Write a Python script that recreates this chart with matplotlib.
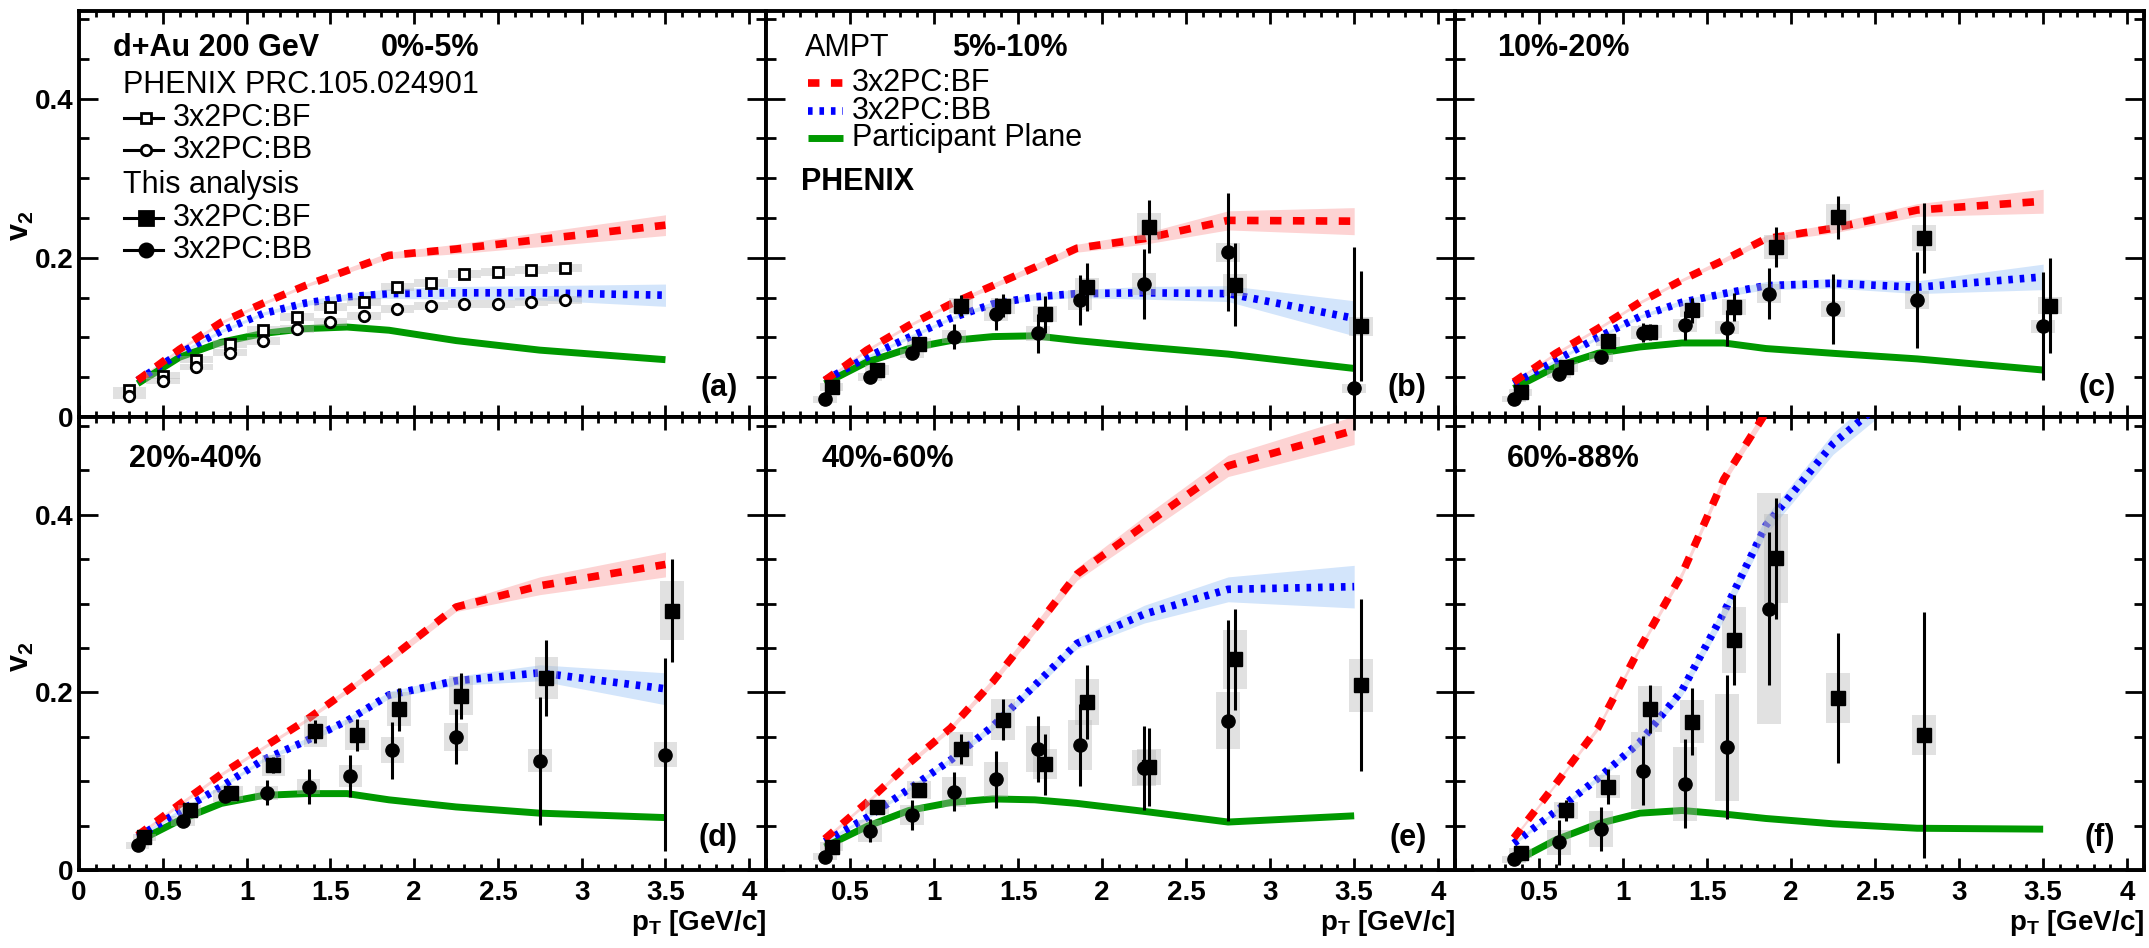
import numpy as np
import matplotlib
matplotlib.use('Agg')
import matplotlib.pyplot as plt
from matplotlib.ticker import MultipleLocator, FuncFormatter
from matplotlib.patches import Rectangle

plt.rcParams['font.family'] = ['Liberation Sans', 'DejaVu Sans']
plt.rcParams['mathtext.fontset'] = 'custom'
plt.rcParams['mathtext.rm'] = 'Liberation Sans'
plt.rcParams['mathtext.bf'] = 'Liberation Sans:bold'
plt.rcParams['mathtext.it'] = 'Liberation Sans:italic'

# ---------------- AMPT model curves (common pT grid) ----------------
pt_model = [0.35, 0.6, 0.85, 1.1, 1.35, 1.6, 1.85, 2.25, 2.75, 3.5]

bf_a = [0.046, 0.085, 0.119, 0.143, 0.165, 0.184, 0.203, 0.211, 0.223, 0.241]
bb_a = [0.046, 0.080, 0.108, 0.130, 0.143, 0.151, 0.155, 0.156, 0.156, 0.153]
pp_a = [0.042, 0.075, 0.094, 0.105, 0.111, 0.113, 0.109, 0.096, 0.084, 0.072]
bf_band_a = [0.002, 0.002, 0.002, 0.002, 0.002, 0.003, 0.004, 0.006, 0.009, 0.013]
bb_band_a = [0.002, 0.002, 0.002, 0.002, 0.003, 0.004, 0.006, 0.008, 0.009, 0.014]

bf_b = [0.046, 0.084, 0.115, 0.142, 0.165, 0.188, 0.212, 0.224, 0.247, 0.246]
bb_b = [0.046, 0.075, 0.100, 0.124, 0.142, 0.151, 0.155, 0.156, 0.155, 0.124]
pp_b = [0.042, 0.069, 0.086, 0.096, 0.101, 0.102, 0.096, 0.088, 0.079, 0.061]
bf_band_b = [0.002, 0.002, 0.002, 0.002, 0.003, 0.004, 0.005, 0.007, 0.012, 0.017]
bb_band_b = [0.002, 0.002, 0.002, 0.002, 0.003, 0.004, 0.005, 0.008, 0.010, 0.022]

bf_c = [0.044, 0.080, 0.111, 0.144, 0.172, 0.197, 0.224, 0.237, 0.260, 0.271]
bb_c = [0.042, 0.071, 0.100, 0.126, 0.144, 0.155, 0.165, 0.168, 0.163, 0.176]
pp_c = [0.036, 0.063, 0.080, 0.088, 0.093, 0.093, 0.086, 0.080, 0.073, 0.059]
bf_band_c = [0.002, 0.002, 0.002, 0.002, 0.002, 0.003, 0.004, 0.006, 0.008, 0.015]
bb_band_c = [0.002, 0.002, 0.002, 0.002, 0.003, 0.004, 0.005, 0.006, 0.008, 0.016]

bf_d = [0.039, 0.074, 0.108, 0.138, 0.168, 0.202, 0.237, 0.296, 0.320, 0.344]
bb_d = [0.037, 0.066, 0.094, 0.124, 0.145, 0.168, 0.197, 0.213, 0.222, 0.204]
pp_d = [0.032, 0.056, 0.075, 0.084, 0.086, 0.086, 0.079, 0.071, 0.064, 0.059]
bf_band_d = [0.002, 0.002, 0.002, 0.002, 0.002, 0.003, 0.004, 0.005, 0.010, 0.014]
bb_band_d = [0.002, 0.002, 0.002, 0.002, 0.003, 0.003, 0.004, 0.005, 0.009, 0.018]

bf_e = [0.035, 0.076, 0.120, 0.160, 0.212, 0.272, 0.333, 0.388, 0.455, 0.495]
bb_e = [0.032, 0.059, 0.091, 0.124, 0.162, 0.208, 0.255, 0.288, 0.316, 0.319]
pp_e = [0.026, 0.049, 0.067, 0.076, 0.080, 0.079, 0.075, 0.066, 0.054, 0.061]
bf_band_e = [0.002, 0.002, 0.003, 0.003, 0.004, 0.005, 0.007, 0.010, 0.012, 0.016]
bb_band_e = [0.002, 0.002, 0.002, 0.003, 0.004, 0.005, 0.006, 0.010, 0.014, 0.024]

bf_f = [0.036, 0.097, 0.160, 0.250, 0.333, 0.440, 0.515]
bb_f = [0.030, 0.066, 0.103, 0.144, 0.202, 0.290, 0.388, 0.480, 0.560]
pp_f = [0.009, 0.034, 0.052, 0.064, 0.067, 0.063, 0.058, 0.052, 0.047, 0.046]
bf_band_f = [0.002, 0.002, 0.003, 0.003, 0.004, 0.005, 0.006]
bb_band_f = [0.002, 0.002, 0.003, 0.004, 0.006, 0.008, 0.010, 0.012, 0.014]

# ---------------- PHENIX PRC.105.024901 (0-5%) ----------------
pt_phx = [0.3, 0.5, 0.7, 0.9, 1.1, 1.3, 1.5, 1.7, 1.9, 2.1, 2.3, 2.5, 2.7, 2.9]
v2_phx_bf = [0.034, 0.052, 0.072, 0.092, 0.109, 0.126, 0.138, 0.145, 0.163, 0.168, 0.180, 0.182, 0.185, 0.187]
v2_phx_bb = [0.026, 0.045, 0.063, 0.081, 0.095, 0.110, 0.119, 0.127, 0.136, 0.140, 0.142, 0.142, 0.144, 0.147]
sys_phx = [0.004, 0.004, 0.004, 0.005, 0.005, 0.005, 0.005, 0.005, 0.005, 0.005, 0.005, 0.005, 0.005, 0.005]

# ---------------- This analysis ----------------
pt_bb = [0.35, 0.62, 0.87, 1.12, 1.37, 1.62, 1.87, 2.25, 2.75, 3.5]
pt_bf = [0.39, 0.66, 0.91, 1.16, 1.41, 1.66, 1.91, 2.28, 2.79, 3.54]

v2_bf_b = [0.038, 0.059, 0.092, 0.140, 0.140, 0.129, 0.163, 0.239, 0.166, 0.114]
err_bf_b = [0.004, 0.005, 0.007, 0.013, 0.015, 0.023, 0.030, 0.033, 0.052, 0.069]
sys_bf_b = [0.005, 0.006, 0.007, 0.009, 0.010, 0.010, 0.012, 0.017, 0.014, 0.012]
v2_bb_b = [0.022, 0.050, 0.080, 0.101, 0.129, 0.105, 0.147, 0.167, 0.207, 0.036]
err_bb_b = [0.004, 0.005, 0.007, 0.016, 0.020, 0.025, 0.032, 0.044, 0.074, 0.177]
sys_bb_b = [0.004, 0.005, 0.006, 0.008, 0.009, 0.009, 0.012, 0.014, 0.012, 0.006]

v2_bf_c = [0.031, 0.063, 0.095, 0.107, 0.134, 0.138, 0.214, 0.251, 0.225, 0.140]
err_bf_c = [0.003, 0.005, 0.006, 0.010, 0.016, 0.018, 0.025, 0.027, 0.044, 0.060]
sys_bf_c = [0.004, 0.006, 0.006, 0.008, 0.009, 0.010, 0.015, 0.016, 0.016, 0.011]
v2_bb_c = [0.023, 0.054, 0.075, 0.106, 0.115, 0.112, 0.155, 0.136, 0.147, 0.114]
err_bb_c = [0.003, 0.005, 0.006, 0.012, 0.018, 0.023, 0.032, 0.044, 0.060, 0.068]
sys_bb_c = [0.004, 0.005, 0.006, 0.008, 0.008, 0.008, 0.012, 0.010, 0.011, 0.008]

v2_bf_d = [0.037, 0.067, 0.087, 0.118, 0.156, 0.152, 0.181, 0.196, 0.216, 0.292]
err_bf_d = [0.004, 0.005, 0.006, 0.009, 0.013, 0.018, 0.024, 0.026, 0.043, 0.058]
sys_bf_d = [0.004, 0.006, 0.008, 0.012, 0.017, 0.017, 0.019, 0.022, 0.024, 0.033]
v2_bb_d = [0.028, 0.055, 0.083, 0.087, 0.094, 0.106, 0.135, 0.150, 0.123, 0.130]
err_bb_d = [0.003, 0.005, 0.006, 0.014, 0.020, 0.024, 0.032, 0.031, 0.072, 0.109]
sys_bb_d = [0.004, 0.006, 0.007, 0.008, 0.008, 0.012, 0.015, 0.016, 0.013, 0.014]

v2_bf_e = [0.026, 0.071, 0.090, 0.136, 0.169, 0.119, 0.189, 0.116, 0.237, 0.208]
err_bf_e = [0.004, 0.006, 0.008, 0.017, 0.023, 0.034, 0.042, 0.044, 0.057, 0.097]
sys_bf_e = [0.005, 0.008, 0.010, 0.019, 0.023, 0.017, 0.026, 0.020, 0.033, 0.030]
v2_bb_e = [0.015, 0.044, 0.062, 0.088, 0.102, 0.136, 0.141, 0.115, 0.168]
err_bb_e = [0.004, 0.013, 0.017, 0.022, 0.032, 0.037, 0.046, 0.047, 0.113]
sys_bb_e = [0.004, 0.012, 0.011, 0.017, 0.020, 0.026, 0.028, 0.020, 0.032]

v2_bf_f = [0.019, 0.067, 0.094, 0.181, 0.167, 0.259, 0.351, 0.194, 0.152]
err_bf_f = [0.004, 0.012, 0.020, 0.027, 0.038, 0.051, 0.068, 0.073, 0.138]
sys_bf_f = [0.006, 0.010, 0.013, 0.026, 0.024, 0.037, 0.050, 0.028, 0.022]
v2_bb_f = [0.012, 0.031, 0.046, 0.112, 0.097, 0.138, 0.294]
err_bb_f = [0.004, 0.025, 0.025, 0.039, 0.050, 0.081, 0.086]
sys_bb_f = [0.004, 0.014, 0.020, 0.043, 0.042, 0.060, 0.130]

centralities = ['0%-5%', '5%-10%', '10%-20%', '20%-40%', '40%-60%', '60%-88%']
panel_tags = ['(a)', '(b)', '(c)', '(d)', '(e)', '(f)']

RED, BLUE, GREEN = '#ff0000', '#0000ff', '#009900'
RED_BAND, BLUE_BAND = '#fdd3d3', '#d3e5fb'
FS = 22

fig = plt.figure(figsize=(21.49, 9.48), dpi=100)
W, H = 2149.0, 948.0
col_x = [79, 766, 1455]
col_w = [687, 689, 689]
rows = [(11, 417), (417, 870)]   # top/bottom pixel of each row's frame

axes = []
for r, (top, bot) in enumerate(rows):
    for c in range(3):
        ax = fig.add_axes([col_x[c] / W, 1 - bot / H, col_w[c] / W, (bot - top) / H])
        axes.append(ax)


def model(ax, n_bf, bf, bf_band, bb, bb_band, pp):
    x = np.array(pt_model)
    bf, bf_band = np.array(bf), np.array(bf_band)
    bb, bb_band = np.array(bb), np.array(bb_band)
    ax.fill_between(x[:len(bf)], bf - bf_band, bf + bf_band, color=RED_BAND, lw=0, zorder=1)
    ax.fill_between(x[:len(bb)], bb - bb_band, bb + bb_band, color=BLUE_BAND, lw=0, zorder=1)
    ax.plot(x[:len(pp)], pp, color=GREEN, lw=5, solid_capstyle='butt', zorder=2)
    ax.plot(x[:len(bb)], bb, color=BLUE, lw=5.5, dashes=(0.6, 0.9), dash_capstyle='butt', zorder=3)
    ax.plot(x[:len(bf)], bf, color=RED, lw=5.5, dashes=(1.5, 1.5), dash_capstyle='butt', zorder=3)


def points(ax, px, v2, err, sys, marker, half_w=0.07):
    px = np.array(px[:len(v2)])
    for xi, yi, si in zip(px, v2, sys):
        ax.add_patch(Rectangle((xi - half_w, yi - si), 2 * half_w, 2 * si,
                               facecolor='#b4b4b4', alpha=0.4, lw=0, zorder=4))
    ax.errorbar(px, v2, yerr=err, fmt='none', ecolor='black', elinewidth=2.2, capsize=0, zorder=5)
    ax.plot(px, v2, ls='none', marker=marker, color='black', ms=9.5, zorder=6)


# panel (a)
ax = axes[0]
model(ax, 10, bf_a, bf_band_a, bb_a, bb_band_a, pp_a)
for xi, yb, yc, si in zip(pt_phx, v2_phx_bf, v2_phx_bb, sys_phx):
    ax.add_patch(Rectangle((xi - 0.1, yb - si), 0.2, 2 * si, facecolor='#b4b4b4', alpha=0.4, lw=0, zorder=4))
    ax.add_patch(Rectangle((xi - 0.1, yc - si), 0.2, 2 * si, facecolor='#b4b4b4', alpha=0.4, lw=0, zorder=4))
ax.plot(pt_phx, v2_phx_bf, ls='none', marker='s', ms=7.5, mfc='white', mec='black', mew=2, zorder=6)
ax.plot(pt_phx, v2_phx_bb, ls='none', marker='o', ms=7.5, mfc='white', mec='black', mew=2, zorder=6)

# panels (b)-(f)
model(axes[1], 10, bf_b, bf_band_b, bb_b, bb_band_b, pp_b)
points(axes[1], pt_bf, v2_bf_b, err_bf_b, sys_bf_b, 's')
points(axes[1], pt_bb, v2_bb_b, err_bb_b, sys_bb_b, 'o')
model(axes[2], 10, bf_c, bf_band_c, bb_c, bb_band_c, pp_c)
points(axes[2], pt_bf, v2_bf_c, err_bf_c, sys_bf_c, 's')
points(axes[2], pt_bb, v2_bb_c, err_bb_c, sys_bb_c, 'o')
model(axes[3], 10, bf_d, bf_band_d, bb_d, bb_band_d, pp_d)
points(axes[3], pt_bf, v2_bf_d, err_bf_d, sys_bf_d, 's')
points(axes[3], pt_bb, v2_bb_d, err_bb_d, sys_bb_d, 'o')
model(axes[4], 10, bf_e, bf_band_e, bb_e, bb_band_e, pp_e)
points(axes[4], pt_bf, v2_bf_e, err_bf_e, sys_bf_e, 's')
points(axes[4], pt_bb, v2_bb_e, err_bb_e, sys_bb_e, 'o')
model(axes[5], 10, bf_f, bf_band_f, bb_f, bb_band_f, pp_f)
points(axes[5], pt_bf, v2_bf_f, err_bf_f, sys_bf_f, 's')
points(axes[5], pt_bb, v2_bb_f, err_bb_f, sys_bb_f, 'o')

# axes styling (ROOT-like frames)
for i, ax in enumerate(axes):
    ax.set_xlim(0, 4.1)
    ax.set_ylim(0, 0.51)
    for s in ax.spines.values():
        s.set_linewidth(2.8)
    ax.xaxis.set_major_locator(MultipleLocator(0.5))
    ax.xaxis.set_minor_locator(MultipleLocator(0.1))
    ax.yaxis.set_major_locator(MultipleLocator(0.2))
    ax.yaxis.set_minor_locator(MultipleLocator(0.05))
    ax.tick_params(axis='x', which='major', direction='in', length=9, width=2, top=True, bottom=True, pad=7)
    ax.tick_params(axis='x', which='minor', direction='in', length=4.5, width=2, top=True, bottom=True)
    ax.tick_params(axis='y', which='major', direction='in', length=14, width=2, left=True, right=True, pad=4)
    ax.tick_params(axis='y', which='minor', direction='in', length=7, width=2, left=True, right=True)
    for lab in ax.get_xticklabels() + ax.get_yticklabels():
        lab.set_fontweight('bold')
        lab.set_fontsize(20)
    if i < 3:
        ax.tick_params(axis='x', labelbottom=False)
    else:
        if i == 3:
            ax.xaxis.set_major_formatter(FuncFormatter(lambda v, p: '%g' % round(v, 2)))
        else:
            ax.xaxis.set_major_formatter(FuncFormatter(lambda v, p: '' if v < 0.01 else '%g' % round(v, 2)))
        ax.text(1.0, -0.118, r'$\mathbf{p_T}$ [GeV/c]', transform=ax.transAxes, ha='right', va='center',
                fontsize=20, fontweight='bold')
    if i % 3 == 0:
        ax.yaxis.set_major_formatter(FuncFormatter(lambda v, p: '0' if abs(v) < 1e-9 else '%.1f' % v))
        ax.text(-0.085, 0.47, r'$\mathbf{v_2}$', transform=ax.transAxes, rotation=90,
                ha='center', va='center', fontsize=22)
    else:
        ax.tick_params(axis='y', labelleft=False)
    ax.text(3.93, 0.036, panel_tags[i], ha='right', va='center', fontsize=FS, fontweight='bold', zorder=8)

# centrality labels
label_x = [1.80, 1.11, 0.25, 0.30, 0.33, 0.31]
for i, ax in enumerate(axes):
    ax.text(label_x[i], 0.463, centralities[i], ha='left', va='center', fontsize=FS, fontweight='bold')

# panel (a) texts / legend
ax = axes[0]
ax.text(0.20, 0.463, 'd+Au 200 GeV', ha='left', va='center', fontsize=FS, fontweight='bold')
ax.text(0.26, 0.417, 'PHENIX PRC.105.024901', ha='left', va='center', fontsize=FS)
ax.text(0.26, 0.291, 'This analysis', ha='left', va='center', fontsize=FS)
leg_a = [(0.375, 's', 'white', '3x2PC:BF', 7.5), (0.335, 'o', 'white', '3x2PC:BB', 7.5),
         (0.250, 's', 'black', '3x2PC:BF', 9.5), (0.210, 'o', 'black', '3x2PC:BB', 9.5)]
for yy, mk, fc, lab, ms in leg_a:
    ax.plot([0.27, 0.50], [yy, yy], color='black', lw=2.2, zorder=7)
    ax.plot([0.40], [yy], marker=mk, ms=ms, mfc=fc, mec='black', mew=2, zorder=8)
    ax.text(0.56, yy, lab, ha='left', va='center', fontsize=FS)

# panel (b) texts / legend
ax = axes[1]
ax.text(0.23, 0.463, 'AMPT', ha='left', va='center', fontsize=FS)
ax.text(0.21, 0.295, 'PHENIX', ha='left', va='center', fontsize=FS, fontweight='bold')
ax.plot([0.25, 0.46], [0.420, 0.420], color=RED, lw=5.5, dashes=(1.5, 1.5), dash_capstyle='butt')
ax.plot([0.25, 0.46], [0.385, 0.385], color=BLUE, lw=5.5, dashes=(0.6, 0.9), dash_capstyle='butt')
ax.plot([0.25, 0.46], [0.350, 0.350], color=GREEN, lw=5, solid_capstyle='butt')
for yy, lab in [(0.420, '3x2PC:BF'), (0.385, '3x2PC:BB'), (0.350, 'Participant Plane')]:
    ax.text(0.51, yy, lab, ha='left', va='center', fontsize=FS)

fig.savefig('out.png', dpi=100)
